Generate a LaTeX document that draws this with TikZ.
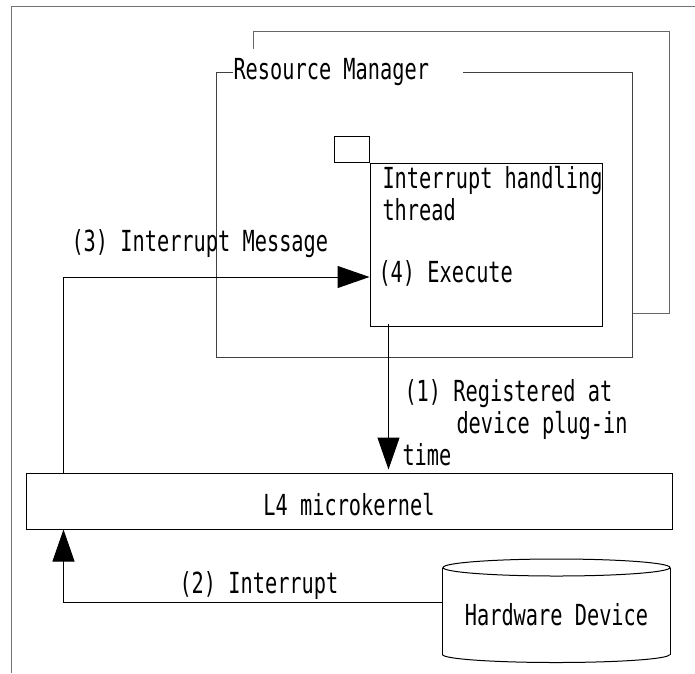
\documentclass[tikz,border=0pt]{standalone}
\usepackage{fontspec}
\setmainfont{DejaVu Sans Mono}[FakeStretch=0.70]
\usetikzlibrary{arrows.meta}
\begin{document}
\begin{tikzpicture}[x=1pt,y=-1pt,line width=1pt,
  txt/.style={anchor=base west,inner sep=0pt,align=left,font=\fontsize{29}{32}\selectfont},
  plain/.style={draw,inner sep=0pt,font=\fontsize{29}{32}\selectfont},
  arr/.style={-{Triangle[length=32pt,width=22pt]}},
  framecol/.style={draw=black!55},
  backcol/.style={draw=black!60},
  rmcol/.style={draw=black!75}]
\useasboundingbox (0,0) rectangle (695,673);
% outer frame
\draw[framecol] (11,673) -- (11,6) -- (695,6);
% back (stacked) resource manager outline
\draw[backcol] (253,49) -- (253,31) -- (669,31) -- (669,313) -- (632,313);
% resource manager box with title in its top edge
\draw[rmcol] (233,72) -- (216,72) -- (216,357) -- (632,357) -- (632,72) -- (463,72);
\node[txt] (rmlabel) at (233,79) {Resource Manager};
% interrupt handling thread
\node[draw,inner sep=0pt,minimum width=232pt,minimum height=163pt] (front) at (486,244.5) {};
\node[draw,inner sep=0pt,minimum width=35pt,minimum height=26pt,anchor=south east] (tab) at (front.north west) {};
\node[txt] (thr) at (382,220) {Interrupt handling\\thread};
\node[txt] (exec) at (378,282) {(4) Execute};
% L4 microkernel
\node[plain,minimum width=646pt,minimum height=56pt,text height=29pt,text depth=0pt] (l4) at (349,501) {L4 microkernel};
% hardware device cylinder
\node[inner sep=0pt,minimum width=227pt,minimum height=86pt,text height=29pt,text depth=0pt,font=\fontsize{29}{32}\selectfont] (hw) at (556.5,611) {Hardware Device};
\draw (hw.north) ellipse [x radius=113.5pt,y radius=8.5pt];
\draw (hw.north west) -- (hw.south west);
\draw (hw.north east) -- (hw.south east);
\draw (hw.south west) arc [start angle=180,end angle=360,x radius=113.5pt,y radius=8pt];
% connectors
\draw[arr] ([xshift=19pt,yshift=3pt]front.south west) -- ([xshift=19pt,yshift=3pt]front.south west |- l4.north);
\draw[arr] ([yshift=9pt]hw.west) -| ([xshift=38pt]l4.south west);
\draw[arr] ([xshift=38pt]l4.north west) |- ([yshift=-32.5pt]front.west);
% labels
\node[txt] (lab1) at (404,465) {(1) Registered at\\\hspace*{52pt}device plug-in\\\hspace*{-2pt}time};
\node[txt] (lab2) at (179,593) {(2) Interrupt};
\node[txt] (lab3) at (71,251) {(3) Interrupt Message};
\end{tikzpicture}
\end{document}
